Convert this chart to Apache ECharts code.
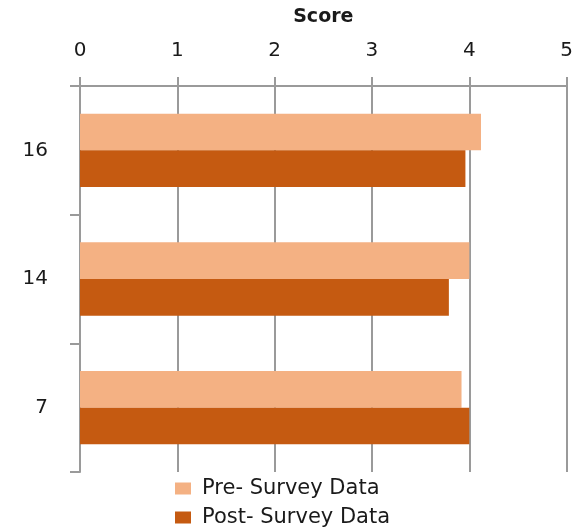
<!DOCTYPE html>
<html>
<head>
<meta charset="utf-8">
<script src="https://cdn.jsdelivr.net/npm/echarts@6/dist/echarts.min.js"></script>
<style>
  html, body { margin: 0; padding: 0; background: #ffffff; }
  #chart { width: 576px; height: 529px; }
</style>
</head>
<body>
<div id="chart"></div>
<script>
// Question groups, top to bottom
const categories = ['16', '14', '7'];
// Mean scores per group
const preSurvey = [4.12, 4.0, 3.92];
const postSurvey = [3.96, 3.79, 4.0];
const scoreTicks = [0, 1, 2, 3, 4, 5];

const FONT = '"DejaVu Sans", Verdana, sans-serif';
const TEXT = '#1a1a1a';
const AXIS_GREY = '#9a9a9a';

const chart = echarts.init(document.getElementById('chart'));
chart.setOption({
  animation: false,
  textStyle: { fontFamily: FONT },
  grid: { left: 80, right: 7, top: 86, bottom: 57, containLabel: false },
  legend: {
    orient: 'vertical',
    left: 175,
    top: 478,
    padding: 0,
    itemWidth: 16,
    itemHeight: 12,
    itemGap: 8,
    icon: 'rect',
    textStyle: { fontFamily: FONT, fontSize: 21, color: TEXT, padding: [0, 0, 0, 6] },
    data: ['Pre- Survey Data', 'Post- Survey Data']
  },
  xAxis: {
    type: 'value',
    position: 'top',
    min: scoreTicks[0],
    max: scoreTicks[scoreTicks.length - 1],
    interval: 1,
    name: 'Score',
    nameLocation: 'middle',
    nameGap: 59,
    nameTextStyle: { fontFamily: FONT, fontSize: 19, fontWeight: 'bold', color: TEXT },
    axisLine: { show: true, lineStyle: { color: AXIS_GREY, width: 2 } },
    axisTick: { show: true, length: 9, lineStyle: { color: AXIS_GREY, width: 2 } },
    axisLabel: { fontFamily: FONT, fontSize: 20, color: TEXT, margin: 25 },
    splitLine: { show: true, lineStyle: { color: AXIS_GREY, width: 2 } }
  },
  yAxis: {
    type: 'category',
    inverse: true,
    data: categories,
    axisLine: { show: true, lineStyle: { color: AXIS_GREY, width: 2 } },
    axisTick: { show: true, length: 10, alignWithLabel: false, lineStyle: { color: AXIS_GREY, width: 2 } },
    axisLabel: { fontFamily: FONT, fontSize: 20, color: TEXT, margin: 32 },
    splitLine: { show: false }
  },
  series: [
    {
      name: 'Pre- Survey Data',
      type: 'bar',
      data: preSurvey,
      barGap: '0%',
      barCategoryGap: '43%',
      itemStyle: { color: '#F4B183' }
    },
    {
      name: 'Post- Survey Data',
      type: 'bar',
      data: postSurvey,
      itemStyle: { color: '#C55A11' }
    }
  ]
});
</script>
</body>
</html>
